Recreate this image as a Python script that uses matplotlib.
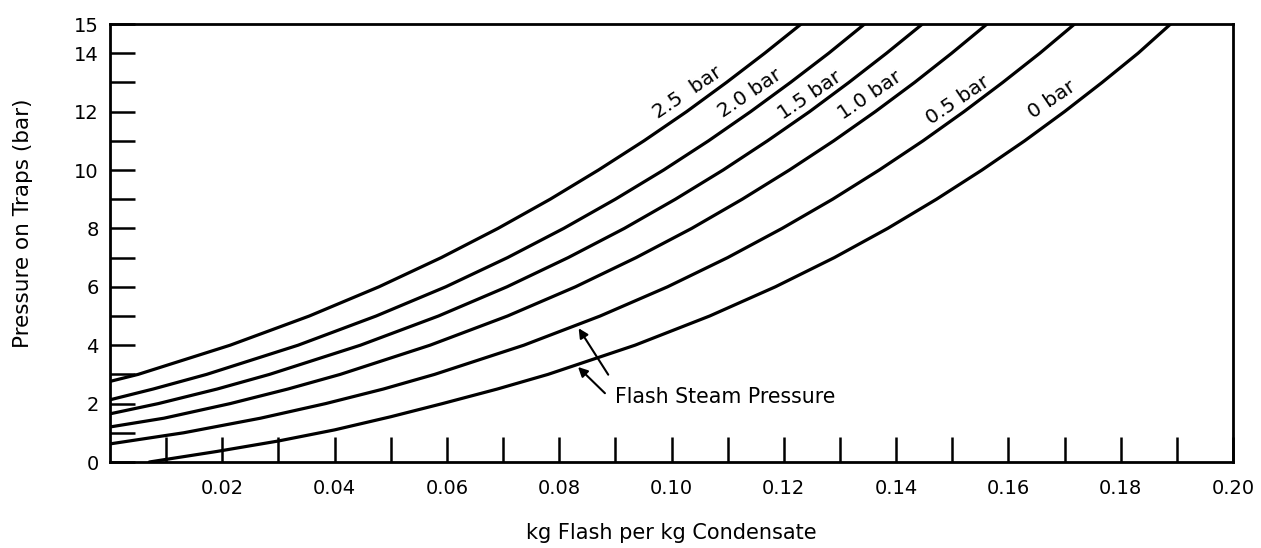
import numpy as np
import matplotlib
matplotlib.use("Agg")
import matplotlib.pyplot as plt

plt.rcParams['font.family'] = ['DejaVu Sans']

# ---- data ----
curve_labels = ["2.5  bar", "2.0 bar", "1.5 bar", "1.0 bar", "0.5 bar", "0 bar"]

x_25 = [0.0, 0.0050, 0.0214, 0.0355, 0.0479, 0.0590, 0.0691, 0.0784, 0.0870, 0.0951, 0.1027, 0.1098, 0.1166, 0.1231]
y_25 = [2.76, 3, 4, 5, 6, 7, 8, 9, 10, 11, 12, 13, 14, 15]

x_20 = [0.0, 0.0077, 0.0172, 0.0335, 0.0474, 0.0598, 0.0708, 0.0808, 0.0900, 0.0986, 0.1066, 0.1141, 0.1212, 0.1280, 0.1344]
y_20 = [2.13, 2.5, 3, 4, 5, 6, 7, 8, 9, 10, 11, 12, 13, 14, 15]

x_15 = [0.0, 0.0086, 0.0191, 0.0284, 0.0446, 0.0585, 0.0707, 0.0816, 0.0916, 0.1007, 0.1092, 0.1171, 0.1246, 0.1316, 0.1383, 0.1447]
y_15 = [1.65, 2, 2.5, 3, 4, 5, 6, 7, 8, 9, 10, 11, 12, 13, 14, 15]

x_10 = [0.0, 0.0096, 0.0214, 0.0317, 0.0410, 0.0570, 0.0708, 0.0829, 0.0937, 0.1036, 0.1126, 0.1210, 0.1289, 0.1363, 0.1433, 0.1499, 0.1562]
y_10 = [1.20, 1.5, 2, 2.5, 3, 4, 5, 6, 7, 8, 9, 10, 11, 12, 13, 14, 15]

x_05 = [0.0, 0.0131, 0.0268, 0.0384, 0.0487, 0.0578, 0.0737, 0.0873, 0.0993, 0.1100, 0.1197, 0.1287, 0.1370, 0.1448, 0.1521, 0.1590, 0.1656, 0.1718]
y_05 = [0.62, 1, 1.5, 2, 2.5, 3, 4, 5, 6, 7, 8, 9, 10, 11, 12, 13, 14, 15]

x_00 = [0.007, 0.019, 0.030, 0.040, 0.050, 0.0592, 0.0690, 0.0780, 0.0935, 0.1068, 0.1185, 0.1290, 0.1385, 0.1472, 0.1553, 0.1629, 0.1700, 0.1767, 0.1831, 0.1889]
y_00 = [0.0, 0.36, 0.72, 1.10, 1.55, 2, 2.5, 3, 4, 5, 6, 7, 8, 9, 10, 11, 12, 13, 14, 15]

label_x = [0.1028, 0.1140, 0.1247, 0.1354, 0.1510, 0.1678]
label_y = [12.64, 12.64, 12.57, 12.57, 12.40, 12.40]

x_ticks = [0.01 * i for i in range(1, 21)]
x_ticklabels = ["", "0.02", "", "0.04", "", "0.06", "", "0.08", "", "0.10",
                "", "0.12", "", "0.14", "", "0.16", "", "0.18", "", "0.20"]
y_ticks = list(range(0, 16))
y_ticklabels = ["0", "", "2", "", "4", "", "6", "", "8", "", "10", "", "12", "", "14", "15"]

# ---- figure ----
fig = plt.figure(figsize=(12.61, 5.48), dpi=100)
ax = fig.add_axes([110 / 1261, 86 / 548, 1123 / 1261, 438 / 548])

series = [(x_25, y_25), (x_20, y_20), (x_15, y_15), (x_10, y_10), (x_05, y_05), (x_00, y_00)]
for xs, ys in series:
    ax.plot(xs, ys, color="black", lw=2.3, solid_capstyle="round", solid_joinstyle="round")

for lab, lx, ly in zip(curve_labels, label_x, label_y):
    ax.text(lx, ly, lab, rotation=34, rotation_mode="anchor", ha="center", va="center",
            fontsize=14.5, color="black")

ax.set_xlim(0, 0.20)
ax.set_ylim(0, 15)
ax.set_xticks(x_ticks)
ax.set_xticklabels(x_ticklabels)
ax.set_yticks(y_ticks)
ax.set_yticklabels(y_ticklabels)
ax.tick_params(axis="both", direction="in", length=18, width=1.8, labelsize=14, colors="black")
ax.tick_params(axis="x", pad=12)
ax.tick_params(axis="y", pad=8)
for sp in ax.spines.values():
    sp.set_linewidth(2)
    sp.set_color("black")

ax.set_xlabel("kg Flash per kg Condensate", fontsize=15, labelpad=18)
ax.set_ylabel("Pressure on Traps (bar)", fontsize=15.5)
ax.yaxis.set_label_coords(-0.0686, 0.546)

# annotation
ax.annotate("", xy=(0.0832, 4.66), xytext=(0.0890, 2.91),
            arrowprops=dict(arrowstyle="-|>", color="black", lw=1.5, mutation_scale=14))
ax.annotate("", xy=(0.0830, 3.32), xytext=(0.0885, 2.29),
            arrowprops=dict(arrowstyle="-|>", color="black", lw=1.5, mutation_scale=14))
ax.text(0.0899, 2.23, "Flash Steam Pressure", ha="left", va="center", fontsize=14.8)

fig.savefig("out.png", dpi=100)
